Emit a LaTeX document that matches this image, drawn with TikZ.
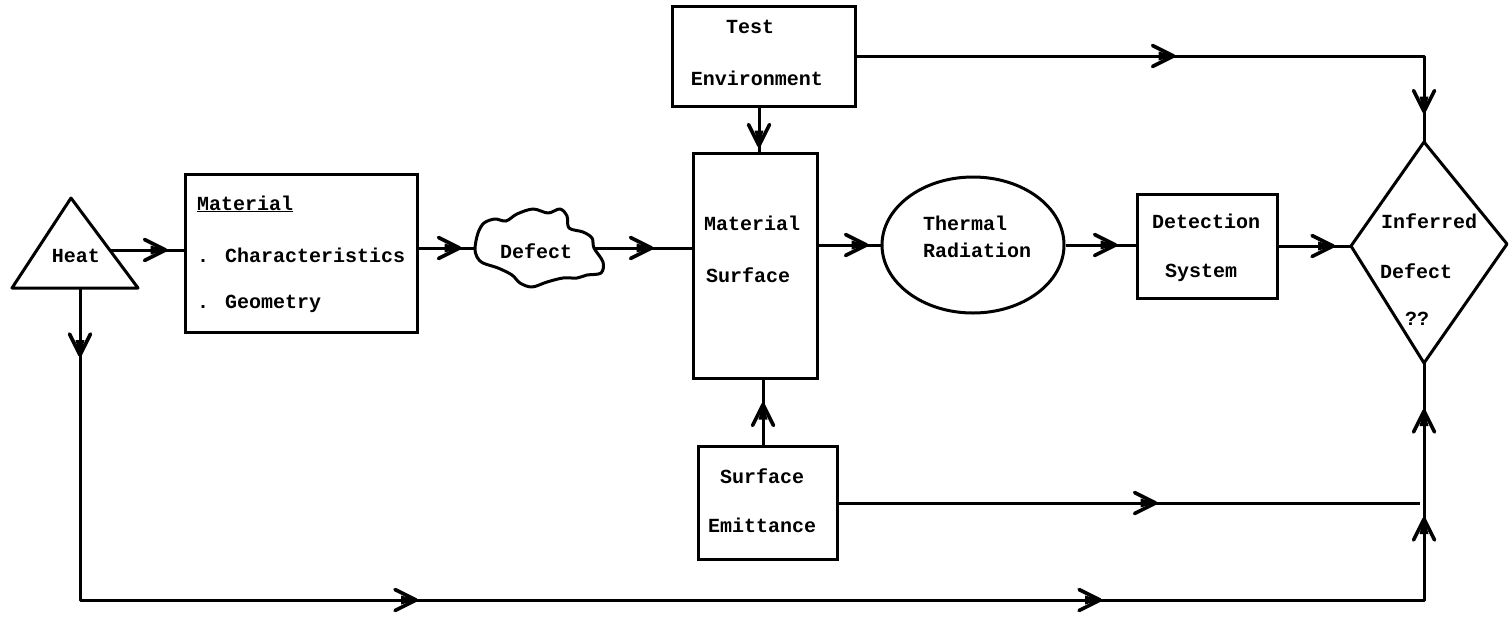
\documentclass[tikz,border=0pt]{standalone}
\usepackage{fontspec}
\newfontfamily\tw{Liberation Mono}
\usetikzlibrary{shapes.geometric,decorations.markings,calc}
\newcommand{\mytip}{%
  \fill (1.5,0) -- (-15,-4.5) -- (-15,4.5) -- cycle;
  \draw[line width=3.6pt, line cap=round, line join=round] (-21,-10.5) -- (0,0) -- (-21,10.5);}
\begin{document}
\begin{tikzpicture}[x=1pt,y=-1pt,
  ln/.style={line width=3pt, line join=round},
  box/.style={draw, line width=3pt, inner sep=0pt, rectangle},
  tx/.style={font=\tw\bfseries\fontsize{20}{24}\selectfont, inner sep=0pt},
  arr/.style={ln, postaction={decorate}, decoration={markings, mark=at position #1 with {\mytip}}}
]
\useasboundingbox (0,0) rectangle (1509,616);

% ---- Heat triangle
\draw[ln] (71,198) -- (12,288) -- (138,288) -- cycle;
\coordinate (heatR) at (110,250);
\coordinate (heatB) at (80,288);
\node[tx, anchor=base] (heat) at (76,262) {Heat};

% ---- Material box
\node[box, minimum width=232pt, minimum height=158pt] (mat) at (301,253) {};
\node[tx, anchor=base west] (matT) at (197,210) {\underline{Material}};
\node[tx, anchor=base west] (matC) at (197,262) {. Characteristics};
\node[tx, anchor=base west] (matG) at (197,308) {. Geometry};

% ---- Defect blob
\draw[ln] plot[smooth cycle, tension=0.55] coordinates {
  (475,248) (478,233) (484,223) (495,219) (506,221) (517,214) (533,209)
  (548,213) (560,209) (567,216) (569,228) (583,232) (592,238) (594,248)
  (603,262) (601,273) (587,275) (577,278) (563,278) (547,282) (532,287)
  (520,283) (512,275) (498,268) (483,263) (477,257)};
\coordinate (defW) at (475,248);
\coordinate (defE) at (594,248);
\node[tx, anchor=base] (defT) at (536,258) {Defect};

% ---- Material Surface
\node[box, minimum width=124pt, minimum height=225pt] (ms) at (755,265.5) {};
\node[tx, anchor=base] (msA) at (752,230) {Material};
\node[tx, anchor=base] (msB) at (748,282) {Surface};
\coordinate (msN) at ($(ms.north)+(4,0)$);
\coordinate (msS) at ($(ms.south)+(8,0)$);

% ---- Test Environment
\node[box, minimum width=183pt, minimum height=100pt] (te) at (763.5,56) {};
\node[tx, anchor=base] (teA) at (750,33) {Test};
\node[tx, anchor=base] (teB) at (757,85) {Environment};

% ---- Thermal Radiation
\node[draw, line width=3pt, ellipse, minimum width=182pt, minimum height=136pt, inner sep=0pt] (th) at (973,245) {};
\node[tx, anchor=base west] (thA) at (923,230) {Thermal};
\node[tx, anchor=base west] (thB) at (923,257) {Radiation};

% ---- Detection System
\node[box, minimum width=140pt, minimum height=104pt] (ds) at (1207,246) {};
\node[tx, anchor=base] (dsA) at (1206,228) {Detection};
\node[tx, anchor=base] (dsB) at (1201,277) {System};

% ---- Inferred Defect diamond
\coordinate (infL) at (1351,246);
\coordinate (infT) at (1424,142);
\coordinate (infR) at (1507,244);
\coordinate (infB) at (1424,363);
\draw[ln] (infL) -- (infT) -- (infR) -- (infB) -- cycle;
\node[tx, anchor=base] (infA) at (1429,228) {Inferred};
\node[tx, anchor=base] (infD) at (1416,278) {Defect};
\node[tx, anchor=base] (infQ) at (1417,325) {??};

% ---- Surface Emittance
\node[box, minimum width=139pt, minimum height=113pt] (se) at (767.5,503) {};
\node[tx, anchor=base] (seA) at (762,483) {Surface};
\node[tx, anchor=base] (seB) at (762,532) {Emittance};

% ---- corner / end coordinates
\coordinate (seEnd) at (1420,503);
\coordinate (botL) at (80,600);
\coordinate (botR) at (1424,600);

% ---- connectors
\draw[arr=-18pt] (heatR) -- (heatR -| mat.west);
\draw[arr=41pt] (mat.east |- defW) -- (defW);
\draw[arr=-40pt] (defE) -- (defE -| ms.west);
\draw[arr=-14pt] (ms.east |- th.west) -- (th.west);
\draw[arr=-20pt] (th.east) -- (th.east -| ds.west);
\draw[arr=-18pt] (ds.east |- infL) -- (infL);
\draw[arr=-6pt] (te.south -| msN) -- (msN);
\draw[arr=-25pt] (se.north -| msS) -- (msS);
\draw[ln, postaction={decorate}, decoration={markings,
    mark=at position 317pt with {\mytip},
    mark=at position 623pt with {\mytip}}]
  (te.east) -- (te.east -| infT) -- (infT);
\draw[arr=317pt] (se.east) -- (seEnd);
\draw[ln, postaction={decorate}, decoration={markings,
    mark=at position 67pt with {\mytip},
    mark=at position 648pt with {\mytip},
    mark=at position 1332pt with {\mytip},
    mark=at position 1737pt with {\mytip},
    mark=at position 1845pt with {\mytip}}]
  (heatB) -- (botL) -- (botR) -- (infB);
\end{tikzpicture}
\end{document}
